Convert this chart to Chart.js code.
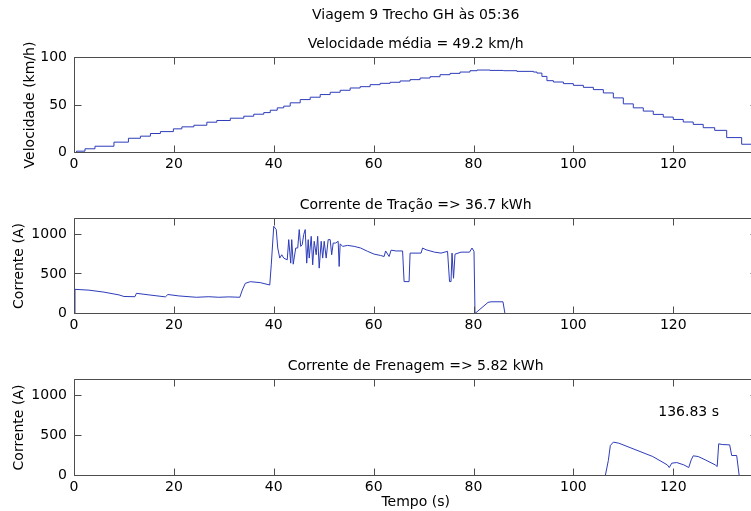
<!DOCTYPE html>
<html>
<head>
<meta charset="utf-8">
<script src="https://cdn.jsdelivr.net/npm/chart.js@4"></script>
<style>
  html, body { margin: 0; padding: 0; background: #fff; overflow: hidden; width: 751px; height: 511px; }
  canvas { position: absolute; left: 0; }
</style>
</head>
<body>
<canvas id="graficoVelocidade" width="770" height="175" style="top:0px"></canvas>
<canvas id="graficoTracao" width="770" height="175" style="top:161px"></canvas>
<canvas id="graficoFrenagem" width="770" height="189" style="top:322px"></canvas>
<script>
// dados (tempo em s)
const tempoFinal = 136.83;

const tempoVel = [0, 0.5, 2.2, 4.2, 8.0, 10.9, 13.3, 15.3, 17.3, 19.9,
    21.6, 24, 26.6, 28.6, 31.3, 34, 36, 38, 39.3, 40.7,
    42, 43.3, 45.3, 47.3, 49.3, 51.3, 53.3, 55.3, 57.3, 59.3,
    61.3, 63.3, 65.3, 67.3, 69.3, 71.3, 73.3, 75.3, 77.3, 79.3,
    80.7, 83.3, 86, 88.7, 92, 92.7, 93.7, 94.7, 96, 98,
    100, 102, 104, 106, 108, 110, 112, 114, 116, 118,
    120, 122, 124, 126, 128.3, 130.7, 133.7, 136.83];
const velocidade = [0, 1.4, 3.9, 6.6, 10.9, 15, 17.2, 20, 22, 24.9,
    27, 28.7, 31.9, 33.7, 36.1, 38.2, 40.3, 42, 44.5, 47,
    48.8, 52.3, 55.7, 58.2, 61, 63.4, 65.5, 67.9, 69.3, 71.4,
    72.8, 73.9, 75.3, 76.7, 78.4, 79.8, 81.9, 83.3, 84.7, 86.1,
    86.8, 86.4, 86.1, 85.4, 84.7, 83.6, 80.1, 75.6, 74.2, 72.5,
    70.7, 68.6, 66.2, 62.7, 57.5, 51.2, 47, 43.6, 40.1, 37.3,
    34.8, 32.1, 29.6, 26.1, 23.3, 15.7, 8.7, 8.7];

const tempoTracao = [0, 0.2, 3, 6, 9, 10, 12.2, 12.5, 15, 18.3, 18.8, 21, 24.5, 27, 29, 31, 33.2, 33.7, 34.3, 35.3,
    37.3, 39.2, 39.5, 40, 40.5, 40.8, 41.2, 41.6, 42, 42.7, 43, 43.4, 43.6, 43.9, 44.4, 44.8, 45.1, 45.4, 45.7,
    46, 46.3, 46.6, 46.9, 47.1, 47.5, 47.8, 48.1, 48.5, 48.8, 49.1, 49.5, 49.8, 50.1, 50.5, 50.9, 51.3, 51.6,
    51.9, 52.4, 52.9, 53.1, 53.3, 53.8, 54.8, 56.1, 57.4, 58.8, 60.1, 61.4, 62.1, 62.4, 63.1, 63.5, 64.5, 65.8,
    66.1, 67.1, 67.3, 69.5, 69.8, 70.5, 72.2, 73.5, 74.8, 75.2, 75.5, 75.7, 76, 76.3, 77.5, 79.2, 79.7, 80.1,
    80.3, 82.9, 83.5, 85.9, 86.3, 136.83];
const correnteTracao = [0, 305, 295, 270, 235, 215, 212, 255, 235, 210, 240, 222, 205, 212, 205, 210, 205, 296, 381, 402,
    390, 360, 614, 1102, 1060, 827, 700, 742, 700, 678, 933, 636, 933, 623, 827, 827, 1060, 848, 869,
    996, 1060, 636, 933, 700, 975, 615, 912, 742, 975, 573, 912, 700, 912, 700, 933, 933, 742,
    890, 890, 912, 594, 880, 848, 860, 848, 827, 785, 750, 733, 720, 790, 720, 800, 790, 790,
    403, 403, 763, 763, 827, 805, 775, 763, 785, 403, 403, 763, 445, 750, 775, 775, 827, 785,
    0, 140, 148, 148, 0, 0];

const tempoFrenagem = [0, 106.4, 107, 107.4, 108, 109.1, 115.9, 118.8, 119.2, 119.7, 120.7, 122.1, 123.1, 123.6,
    124, 125, 126.4, 128.4, 128.8, 129.1, 129.8, 131.3, 131.7, 132.7, 133.2, 136.83];
const correnteFrenagem = [0, 0, 187, 375, 417, 404, 237, 133, 100, 154, 162, 133, 100, 196,
    246, 237, 196, 133, 112, 396, 387, 383, 250, 250, 0, 0];

const ticksVelocidade = [0, 50, 100];
const ticksCorrente = [0, 500, 1000];

const fonte = { family: 'DejaVu Sans, Verdana, sans-serif', size: 14, weight: 'normal' };
const corLinha = 'rgb(45, 60, 185)';
const corMoldura = '#4d4d4d';

// moldura estilo MATLAB: caixa fechada com marcas para dentro
const molduraMatlab = {
    id: 'molduraMatlab',
    afterDatasetsDraw(chart, args, opts) {
        const { ctx, chartArea: a, scales: { x, y } } = chart;
        const esq = Math.floor(a.left) + 0.5, dir = Math.floor(a.right) + 0.5;
        const topo = Math.floor(a.top) + 0.5, base = Math.floor(a.bottom) + 0.5;
        const tam = 7;
        ctx.save();
        ctx.strokeStyle = corMoldura;
        ctx.lineWidth = 1;
        ctx.beginPath();
        x.ticks.forEach(t => {
            const px = Math.round(x.getPixelForValue(t.value)) + 0.5;
            ctx.moveTo(px, base); ctx.lineTo(px, base - tam);
            ctx.moveTo(px, topo); ctx.lineTo(px, topo + tam);
        });
        y.ticks.forEach(t => {
            const py = Math.floor(y.getPixelForValue(t.value)) + 0.5;
            ctx.moveTo(esq, py); ctx.lineTo(esq + tam, py);
            ctx.moveTo(dir, py); ctx.lineTo(dir - tam, py);
        });
        ctx.moveTo(esq, topo); ctx.lineTo(dir, topo); ctx.lineTo(dir, base); ctx.lineTo(esq, base); ctx.closePath();
        ctx.stroke();

        if (opts && opts.texto) {
            ctx.fillStyle = '#000';
            ctx.font = `${fonte.size}px ${fonte.family}`;
            ctx.textAlign = 'left';
            ctx.textBaseline = 'middle';
            ctx.fillText(opts.texto, x.getPixelForValue(opts.x), y.getPixelForValue(opts.y));
        }
        ctx.restore();
    }
};

function criarGrafico(id, tempos, valores, cfg) {
    const ctx = document.getElementById(id).getContext('2d');
    const dados = tempos.map((t, i) => ({ x: t, y: valores[i] }));
    return new Chart(ctx, {
        type: 'line',
        data: {
            datasets: [{
                data: dados,
                borderColor: corLinha,
                borderWidth: 1,
                pointRadius: 0,
                fill: false,
                stepped: cfg.degraus ? 'before' : false,
                tension: 0
            }]
        },
        options: {
            responsive: false,
            animation: false,
            events: [],
            layout: { padding: { left: 0, right: 12.7, top: 0, bottom: 0 } },
            plugins: {
                legend: { display: false },
                tooltip: { enabled: false },
                title: {
                    display: !!cfg.titulo,
                    text: cfg.titulo,
                    fullSize: false,
                    color: '#000',
                    font: fonte,
                    padding: cfg.paddingTitulo
                },
                subtitle: {
                    display: !!cfg.subtitulo,
                    text: cfg.subtitulo,
                    fullSize: false,
                    color: '#000',
                    font: fonte,
                    padding: { top: 8.2, bottom: 5.1 }
                },
                molduraMatlab: cfg.anotacao || {}
            },
            scales: {
                x: {
                    type: 'linear',
                    min: 0,
                    max: tempoFinal,
                    grid: { display: false, drawTicks: false },
                    border: { display: false },
                    ticks: { stepSize: 20, includeBounds: false, color: '#000', font: fonte, padding: 3, maxRotation: 0 },
                    title: {
                        display: !!cfg.tituloX,
                        text: cfg.tituloX,
                        color: '#000',
                        font: fonte,
                        padding: { top: 0, bottom: 0 }
                    },
                    afterFit: s => { s.height = cfg.alturaX; }
                },
                y: {
                    min: 0,
                    max: cfg.yMax,
                    grid: { display: false, drawTicks: false },
                    border: { display: false },
                    afterBuildTicks: s => { s.ticks = cfg.ticksY.map(v => ({ value: v })); },
                    ticks: { color: '#000', font: fonte, padding: 7, callback: v => String(v) },
                    title: {
                        display: true,
                        text: cfg.tituloY,
                        color: '#000',
                        font: fonte,
                        padding: { top: cfg.paddingTituloY, bottom: 0 }
                    },
                    afterFit: s => { s.width = 74; }
                }
            }
        },
        plugins: [molduraMatlab]
    });
}

criarGrafico('graficoVelocidade', tempoVel, velocidade, {
    degraus: true,
    titulo: 'Viagem 9 Trecho GH às 05:36',
    paddingTitulo: { top: 6.6, bottom: 4 },
    subtitulo: 'Velocidade média = 49.2 km/h',
    tituloY: 'Velocidade (km/h)',
    paddingTituloY: 21.6,
    yMax: 100,
    ticksY: ticksVelocidade,
    alturaX: 22.5
});

criarGrafico('graficoTracao', tempoTracao, correnteTracao, {
    titulo: 'Corrente de Tração => 36.7 kWh',
    paddingTitulo: { top: 35.6, bottom: 5.1 },
    tituloY: 'Corrente (A)',
    paddingTituloY: 11.1,
    yMax: 1200,
    ticksY: ticksCorrente,
    alturaX: 22.5
});

criarGrafico('graficoFrenagem', tempoFrenagem, correnteFrenagem, {
    titulo: 'Corrente de Frenagem => 5.82 kWh',
    paddingTitulo: { top: 35.6, bottom: 5.1 },
    tituloY: 'Corrente (A)',
    paddingTituloY: 11.1,
    tituloX: 'Tempo (s)',
    yMax: 1200,
    ticksY: ticksCorrente,
    alturaX: 35.5,
    anotacao: { texto: '136.83 s', x: 117, y: 790 }
});
</script>
</body>
</html>
